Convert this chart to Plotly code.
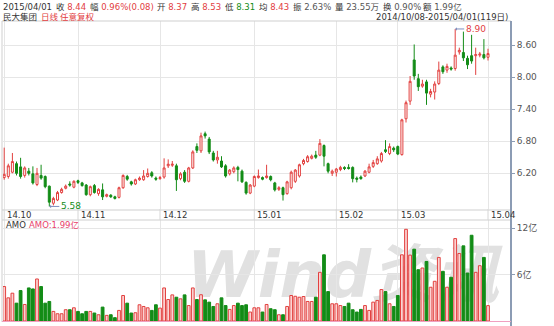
import pandas as pd
import plotly.graph_objects as go

W, H = 554, 326

# ---------------- data ----------------
holidays = ["2015-01-01", "2015-01-02", "2015-02-18", "2015-02-19",
            "2015-02-20", "2015-02-23", "2015-02-24"]
dates = [d.strftime("%Y-%m-%d") for d in pd.bdate_range("2014-10-08", "2015-04-01")
         if d.strftime("%Y-%m-%d") not in holidays]

month_labels = ["14.10", "14.11", "14.12", "15.01", "15.02", "15.03", "15.04"]

open_ = [6.12, 6.14, 6.22, 6.38, 6.32, 6.16, 6.24, 6.19, 5.99, 6.16,
         6.14, 5.96, 5.64, 5.70, 5.84, 5.92, 6.00, 5.94, 6.06, 6.02,
         5.98, 5.80, 5.97, 5.82, 5.89, 5.77, 5.79, 5.76, 5.75, 5.93,
         6.14, 6.04, 6.00, 6.08, 6.08, 6.14, 6.21, 6.11, 6.10, 6.13,
         6.34, 6.35, 6.34, 6.10, 6.22, 6.05, 6.30, 6.70, 6.62, 6.94,
         6.84, 6.58, 6.45, 6.43, 6.34, 6.19, 6.23, 6.31, 6.24, 6.03,
         5.83, 5.96, 6.12, 6.12, 6.12, 6.14, 6.02, 5.90, 5.93, 5.82,
         5.93, 6.05, 6.15, 6.38, 6.42, 6.48, 6.54, 6.54, 6.72, 6.38,
         6.20, 6.22, 6.27, 6.31, 6.31, 6.31, 6.11, 6.13, 6.15, 6.22,
         6.33, 6.38, 6.43, 6.64, 6.57, 6.67, 6.70, 6.55, 7.22, 7.55,
         8.32, 7.97, 7.83, 7.91, 7.68, 7.72, 7.88, 8.19, 8.13, 8.17,
         8.16, 8.47, 8.46, 8.35, 8.40, 8.40, 8.41, 8.42, 8.37]
high = [6.68, 6.38, 6.58, 6.42, 6.49, 6.33, 6.30, 6.33, 6.30, 6.36,
        6.16, 5.97, 5.76, 5.87, 5.93, 5.99, 6.05, 6.07, 6.08, 6.04,
        6.00, 5.97, 6.00, 5.92, 6.01, 5.82, 5.81, 5.78, 5.95, 6.18,
        6.17, 6.06, 6.10, 6.14, 6.26, 6.29, 6.24, 6.14, 6.15, 6.48,
        6.46, 6.43, 6.38, 6.22, 6.26, 6.32, 6.63, 6.76, 6.96, 6.98,
        6.88, 6.62, 6.62, 6.52, 6.37, 6.28, 6.33, 6.34, 6.27, 6.05,
        6.00, 6.16, 6.27, 6.14, 6.36, 6.16, 6.04, 5.96, 5.95, 6.06,
        6.25, 6.28, 6.38, 6.47, 6.54, 6.55, 6.62, 6.84, 6.74, 6.40,
        6.27, 6.30, 6.34, 6.33, 6.37, 6.33, 6.14, 6.16, 6.26, 6.38,
        6.45, 6.52, 6.60, 6.82, 6.76, 6.70, 6.72, 7.22, 7.56, 8.02,
        8.61, 8.06, 7.95, 7.95, 7.78, 7.92, 8.29, 8.22, 8.25, 8.20,
        8.90, 8.55, 8.85, 8.40, 8.79, 8.55, 8.47, 8.71, 8.53]
low = [6.08, 6.10, 6.20, 6.16, 6.10, 6.12, 6.16, 5.99, 5.96, 6.08,
       5.92, 5.58, 5.60, 5.68, 5.82, 5.90, 5.95, 5.92, 6.00, 5.95,
       5.78, 5.77, 5.82, 5.78, 5.70, 5.75, 5.74, 5.71, 5.73, 5.91,
       6.06, 5.97, 5.98, 6.06, 6.06, 6.12, 6.12, 6.06, 6.08, 6.10,
       6.30, 6.32, 5.87, 6.07, 6.02, 6.03, 6.28, 6.58, 6.58, 6.85,
       6.56, 6.42, 6.38, 6.30, 6.12, 6.16, 6.20, 6.05, 6.02, 5.80,
       5.81, 5.94, 6.10, 6.07, 6.10, 6.05, 5.86, 5.87, 5.69, 5.80,
       5.90, 6.02, 6.12, 6.35, 6.40, 6.46, 6.47, 6.52, 6.33, 6.20,
       6.15, 6.14, 6.24, 6.26, 6.27, 6.03, 6.03, 6.08, 6.13, 6.20,
       6.30, 6.36, 6.40, 6.58, 6.54, 6.60, 6.54, 6.53, 7.15, 7.48,
       7.95, 7.74, 7.80, 7.48, 7.62, 7.58, 7.85, 8.06, 8.08, 8.12,
       8.12, 8.42, 8.30, 8.15, 8.25, 8.04, 8.37, 8.33, 8.31]
close = [6.18, 6.34, 6.42, 6.20, 6.14, 6.30, 6.20, 6.02, 6.20, 6.11,
         5.95, 5.66, 5.73, 5.84, 5.90, 5.96, 5.98, 6.05, 6.03, 5.97,
         5.80, 5.95, 5.84, 5.90, 5.76, 5.80, 5.76, 5.73, 5.93, 6.16,
         6.09, 6.00, 6.08, 6.11, 6.15, 6.20, 6.15, 6.09, 6.12, 6.30,
         6.37, 6.37, 6.08, 6.19, 6.05, 6.30, 6.60, 6.63, 6.90, 6.90,
         6.60, 6.45, 6.50, 6.32, 6.15, 6.26, 6.30, 6.27, 6.04, 5.83,
         5.98, 6.14, 6.15, 6.09, 6.15, 6.08, 5.89, 5.93, 5.80, 6.04,
         6.22, 6.26, 6.36, 6.44, 6.51, 6.52, 6.50, 6.76, 6.52, 6.24,
         6.24, 6.28, 6.31, 6.29, 6.29, 6.10, 6.09, 6.10, 6.24, 6.32,
         6.40, 6.47, 6.57, 6.61, 6.70, 6.64, 6.56, 7.20, 7.52, 7.92,
         8.02, 7.82, 7.87, 7.70, 7.73, 7.87, 8.13, 8.10, 8.20, 8.15,
         8.41, 8.50, 8.36, 8.23, 8.30, 8.42, 8.43, 8.36, 8.44]
# turnover amount, 亿元
amount = [4.46, 3.00, 3.60, 2.31, 3.94, 2.14, 4.28, 4.15, 5.44, 4.46,
          2.31, 2.53, 1.24, 0.94, 0.94, 1.46, 1.46, 1.71, 1.24, 0.94,
          1.24, 1.24, 1.03, 0.81, 1.80, 0.73, 0.81, 0.43, 1.37, 3.30,
          2.31, 1.03, 1.07, 2.10, 1.88, 1.71, 1.37, 2.10, 1.67, 4.28,
          2.78, 3.38, 3.08, 2.87, 3.38, 2.00, 4.28, 2.78, 3.40, 2.74,
          2.44, 1.88, 2.23, 3.00, 2.00, 1.50, 2.00, 2.31, 2.00, 2.10,
          1.16, 1.71, 1.71, 1.16, 2.14, 1.59, 1.46, 0.81, 0.81, 1.88,
          3.30, 3.20, 3.08, 3.17, 2.53, 2.53, 3.08, 6.30, 8.57, 3.81,
          2.23, 2.23, 2.00, 1.88, 2.31, 1.46, 1.16, 1.50, 2.00, 1.37,
          2.44, 2.66, 4.07, 3.81, 2.23, 1.88, 3.30, 8.57, 11.87, 8.53,
          9.30, 6.64, 6.86, 7.71, 4.37, 5.14, 8.23, 6.43, 4.37, 5.66,
          10.67, 8.74, 9.73, 6.21, 11.10, 6.30, 7.16, 8.23, 1.99]

price_ticks = [6.20, 6.80, 7.40, 8.00, 8.60]
amount_ticks = [6, 12]
amount_ticktext = ["6亿", "12亿"]

# header quote fields
quote_labels = ["收", "幅", "开", "高", "低", "均", "振", "量", "换", "额"]
quote_values = ["8.44", "0.96%(0.08)", "8.37", "8.53", "8.31", "8.43",
                "2.63%", "23.55万", "0.90%", "1.99亿"]
quote_kind = ["up", "up", "up", "up", "down", "up", "plain", "plain", "plain", "plain"]

# ---------------- style ----------------
RED = "#e2403f"
RED_FILL = "#fbd3d3"
GREEN = "#138c17"
GRID = "#e6e6e6"
AXIS = "#8c9cb4"
TXT = "#333333"
FONT = "DejaVu Sans, Noto Sans CJK SC"
KIND_COLOR = {"up": RED, "down": GREEN, "plain": "#555555"}
quote_x = [54, 88, 155, 189, 223, 257, 291, 333, 381, 421]


def px(x):
    return x / W


def py(y):
    return 1 - y / H


month_idx = []
for i, d in enumerate(dates):
    if i == 0 or d[:7] != dates[i - 1][:7]:
        month_idx.append(i)
month_dates = [dates[i] for i in month_idx]

xr = [(3 - 4.2) / 4.1, (511 - 4.2) / 4.1]


def p_at(y):
    return 6.2 + (173.3 - y) / 53.46


yr_price = [p_at(209), p_at(21)]


def v_at(y):
    return (321 - y) / 7.725


yr_amt = [v_at(322), v_at(220)]

up = [c >= o for o, c in zip(open_, close)]
bar_fill = [RED_FILL if u else GREEN for u in up]
bar_line = [RED if u else GREEN for u in up]

fig = go.Figure()

# watermark (own subplot, drawn beneath the amount bars)
fig.add_trace(go.Scatter(
    x=[343], y=[281], mode="text", text=["Wind资讯"],
    textfont=dict(size=64, color="#e1e1e1", family=FONT, weight="bold", style="italic"),
    xaxis="x", yaxis="y", hoverinfo="skip", showlegend=False, cliponaxis=False))

fig.add_trace(go.Candlestick(
    x=dates, open=open_, high=high, low=low, close=close,
    xaxis="x2", yaxis="y2", whiskerwidth=0,
    increasing=dict(line=dict(color=RED, width=1), fillcolor="white"),
    decreasing=dict(line=dict(color=GREEN, width=1), fillcolor=GREEN),
    showlegend=False, hoverinfo="skip"))

fig.add_trace(go.Bar(
    x=dates, y=amount, xaxis="x3", yaxis="y3", width=0.68,
    marker=dict(color=bar_fill, line=dict(color=bar_line, width=1)),
    showlegend=False, hoverinfo="skip"))

xcommon = dict(type="category", range=xr, tickvals=month_dates, showticklabels=False,
               showgrid=True, gridcolor=GRID, gridwidth=1, zeroline=False, ticks="",
               showline=False, fixedrange=True, domain=[px(3), px(511)])

fig.update_layout(
    width=W, height=H, margin=dict(l=0, r=0, t=0, b=0),
    paper_bgcolor="white", plot_bgcolor="rgba(0,0,0,0)",
    font=dict(family=FONT, size=9, color=TXT),
    showlegend=False, boxgap=0.3,
    xaxis=dict(domain=[0, 1], range=[0, W], visible=False, fixedrange=True),
    yaxis=dict(domain=[py(322), py(220)], range=[322, 220], visible=False, fixedrange=True),
    xaxis2=dict(anchor="y2", rangeslider=dict(visible=False), **xcommon),
    yaxis2=dict(anchor="x2", side="right", domain=[py(209), py(21)], range=yr_price,
                tickvals=price_ticks, ticktext=[f"{v:.2f}" for v in price_ticks],
                ticks="outside", ticklen=3, tickcolor=AXIS,
                tickfont=dict(size=9, color="#555555", family=FONT),
                showgrid=True, gridcolor=GRID, zeroline=False, fixedrange=True),
    xaxis3=dict(anchor="y3", **xcommon),
    yaxis3=dict(anchor="x3", side="right", domain=[py(322), py(220)], range=yr_amt,
                tickvals=amount_ticks, ticktext=amount_ticktext,
                ticks="outside", ticklen=3, tickcolor=AXIS,
                tickfont=dict(size=9, color="#555555", family=FONT),
                showgrid=True, gridcolor=GRID, zeroline=False, fixedrange=True),
)

shapes = []
for y in (21, 210, 220):
    shapes.append(dict(type="line", xref="paper", yref="paper", x0=px(2), x1=px(511),
                       y0=py(y), y1=py(y), line=dict(color="#cfcfcf", width=1)))
shapes.append(dict(type="line", xref="paper", yref="paper", x0=px(2), x1=px(2),
                   y0=py(21), y1=py(322), line=dict(color="#cfcfcf", width=1)))
shapes.append(dict(type="line", xref="paper", yref="paper", x0=px(511), x1=px(511),
                   y0=py(21), y1=py(326), line=dict(color=AXIS, width=2)))
for i in month_idx:
    shapes.append(dict(type="line", xref="x2", yref="paper", x0=i, x1=i,
                       y0=py(220), y1=py(209), line=dict(color="#d6d6d6", width=1)))
shapes.append(dict(type="line", xref="paper", yref="paper", x0=px(2), x1=px(511),
                   y0=py(321.5), y1=py(321.5), line=dict(color="#f0a0c0", width=1)))
fig.update_layout(shapes=shapes)

ann = []


def txt(x, y, s, color=TXT, size=8.5, anchor="left"):
    ann.append(dict(xref="paper", yref="paper", x=px(x), y=py(y), text=s, showarrow=False,
                    xanchor=anchor, yanchor="middle",
                    font=dict(size=size, color=color, family=FONT)))


# header line 1
txt(1, 7, "2015/04/01", size=8.5)
for lab, val, kind, x in zip(quote_labels, quote_values, quote_kind, quote_x):
    txt(x, 7, f"{lab} <span style='color:{KIND_COLOR[kind]}'>{val}</span>", size=8.5)

# header line 2
txt(1, 16.5, "民大集团")
txt(39, 16.5, "日线", RED)
txt(58, 16.5, "任意复权", RED)
txt(510, 16.5, "2014/10/08-2015/04/01(119日)", anchor="right")

for i, lab in zip(month_idx, month_labels):
    ann.append(dict(xref="x2", yref="paper", x=i, y=py(215), text=lab, showarrow=False,
                    xanchor="left", yanchor="middle", xshift=1,
                    font=dict(size=8.5, color=TXT, family=FONT)))

txt(4, 224.5, "AMO")
txt(27, 224.5, "AMO:1.99亿", "#e8406a")

imax = max(range(len(high)), key=lambda k: high[k])
imin = min(range(len(low)), key=lambda k: low[k])
ann.append(dict(xref="x2", yref="y2", x=imax, y=high[imax], text=f"{high[imax]:.2f}",
                showarrow=True, ax=9, ay=0, xanchor="left", arrowhead=1, arrowsize=0.6,
                arrowwidth=1, arrowcolor="#7f8fbf", standoff=0,
                font=dict(size=9, color=RED, family=FONT)))
ann.append(dict(xref="x2", yref="y2", x=imin, y=low[imin], text=f"{low[imin]:.2f}",
                showarrow=True, ax=10, ay=0, xanchor="left", arrowhead=1, arrowsize=0.6,
                arrowwidth=1, arrowcolor="#7f8fbf", standoff=0,
                font=dict(size=9, color=GREEN, family=FONT)))
fig.update_layout(annotations=ann)

fig.write_html("out.html")
